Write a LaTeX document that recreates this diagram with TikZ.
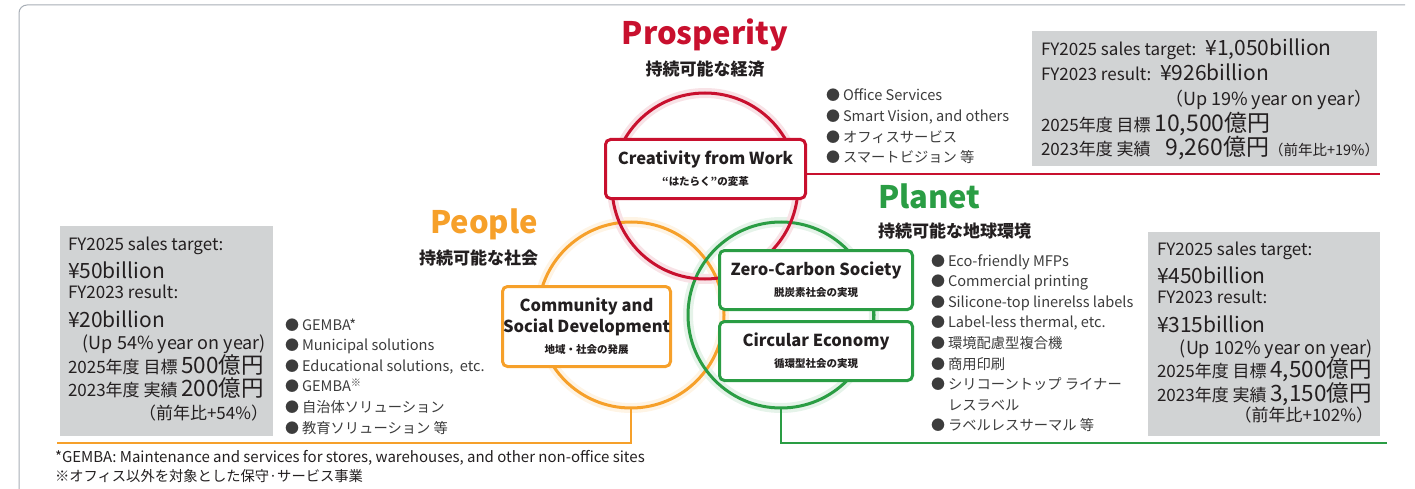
\documentclass[tikz,border=0pt]{standalone}
\usepackage{fontspec}
\setmainfont{Noto Sans CJK JP}
\usetikzlibrary{positioning}

\definecolor{prosred}{HTML}{C8102E}
\definecolor{pplorange}{HTML}{F6A02A}
\definecolor{plngreen}{HTML}{2A9D44}
\definecolor{boxgray}{HTML}{D1D3D4}
\definecolor{framegray}{HTML}{A7AEB6}
\definecolor{txt}{HTML}{231F20}
\definecolor{itemtxt}{HTML}{3C3C3C}

\newcommand{\fsz}[1]{\fontsize{#1}{#1}\selectfont}
\newcommand{\bul}{\makebox[17pt][l]{\fsz{14}●}}
\newcommand{\jtxt}[1]{{\fsz{14.3}#1}}

\begin{document}
\begin{tikzpicture}[x=1pt, y=-1pt,
    every node/.style={inner sep=0pt, outer sep=0pt, text=txt},
    ring/.style={circle, draw, line width=3pt, minimum size=186pt},
    glow/.style={circle, draw, line width=10pt, minimum size=186pt},
    bizbox/.style={draw, line width=3pt, rounded corners=5pt, fill=white, align=center,
      font=\fontsize{16.5}{21}\selectfont\bfseries},
    graybox/.style={fill=boxgray, anchor=north west},
    bigtitle/.style={font=\fsz{31}\bfseries},
    subtitle/.style={font=\fsz{17}\bfseries},
    item/.style={font=\fsz{14.6}, text=itemtxt, anchor=base west},
    gtxt/.style={font=\fsz{17}, anchor=base west},
    gbig/.style={font=\fsz{21}, anchor=base west},
    gjp/.style={font=\fsz{17}, anchor=base west},
    gright/.style={font=\fsz{18}, anchor=base east},
    link/.style={line width=1.2pt}
  ]
  \useasboundingbox (0,0) rectangle (1415,489);

  % frame
  \draw[framegray, line width=1pt, rounded corners=8pt] (19,489) -- (19,5) -- (1405,5);

  % the three rings
  \node[glow, draw=pplorange!12] (pplglow) at (631,315) {};
  \node[glow, draw=plngreen!12] (plnglow) at (781,315) {};
  \node[glow, draw=prosred!12] (prosglow) at (705,186) {};
  \node[ring, draw=pplorange] (pplring) at (631,315) {};
  \node[ring, draw=plngreen] (plnring) at (781,315) {};
  \node[ring, draw=prosred] (prosring) at (705,186) {};

  % titles
  \node[bigtitle, text=prosred, anchor=base] (prostitle) at (705,45) {Prosperity};
  \node[subtitle, anchor=base] (prossub) at (705,76) {持続可能な経済};
  \node[bigtitle, text=pplorange, anchor=base east] (ppltitle) at (538,233) {People};
  \node[subtitle, anchor=base east] (pplsub) at (538,264) {持続可能な社会};
  \node[bigtitle, text=plngreen, anchor=base west] (plntitle) at (878,208) {Planet};
  \node[subtitle, anchor=base west] (plnsub) at (878,237) {持続可能な地球環境};

  % business boxes
  \node[bizbox, draw=prosred, minimum width=200pt, minimum height=59pt] (cfw) at (705.5,169)
    {Creativity from Work\\{\fsz{10.5}“はたらく”の変革}};
  \node[bizbox, draw=pplorange, minimum width=168pt, minimum height=80pt] (csd) at (586.5,326.5)
    {Community and\\Social Development\\{\fsz{10.5}地域・社会の発展}};
  \node[bizbox, draw=plngreen, minimum width=193pt, minimum height=59pt] (zcs) at (816,280)
    {Zero-Carbon Society\\{\fsz{10.5}脱炭素社会の実現}};
  \node[bizbox, draw=plngreen, minimum width=193pt, minimum height=59pt] (cec) at (816,351)
    {Circular Economy\\{\fsz{10.5}循環型社会の実現}};
  \draw[plngreen, line width=3pt] ([xshift=-39pt]zcs.south east) -- ([xshift=-39pt]cec.north east);

  % leader lines
  \coordinate (prosend) at (1380,174);
  \coordinate (pplend) at (57,443);
  \coordinate (plnend) at (1387,443);
  \draw[link, prosred] (cfw.east |- prosend) -- (prosend);
  \draw[link, pplorange] (pplring.south) |- (pplend);
  \draw[link, plngreen] (plnring.south) |- (plnend);

  % business lists
  \foreach \t [count=\i] in {Office Services, {Smart Vision, and others}, \jtxt{オフィスサービス}, \jtxt{スマートビジョン 等}}
    \node[item] (prositem\i) at (826, 80.4+20.6*\i) {\bul\t};
  \foreach \t [count=\i] in {GEMBA*, Municipal solutions, {Educational solutions,\ \ etc.},
      GEMBA\textsuperscript{※}, \jtxt{自治体ソリューション}, \jtxt{教育ソリューション 等}}
    \node[item] (pplitem\i) at (285, 309.4+20.6*\i) {\bul\t};
  \foreach \t [count=\i] in {\bul Eco-friendly MFPs, \bul Commercial printing,
      \bul Silicone-top linerelss labels, {\bul Label-less thermal, etc.}, \bul\jtxt{環境配慮型複合機},
      \bul\jtxt{商用印刷}, \bul\jtxt{シリコーントップ ライナー}, \hspace{17pt}\jtxt{レスラベル},
      \bul\jtxt{ラベルレスサーマル 等}}
    \node[item] (plnitem\i) at (931, 245.4+20.6*\i) {\t};

  % sales figures, Prosperity
  \node[graybox, minimum width=345pt, minimum height=135pt] (prosfig) at (1032,31) {};
  \node[gtxt] (prosfig1) at (1041,56) {FY2025 sales target:\hspace{9pt}{\fsz{21}¥1,050billion}};
  \node[gtxt] (prosfig2) at (1041,81) {FY2023 result:\hspace{9pt}{\fsz{21}¥926billion}};
  \node[gright] (prosfig3) at (1372,106) {（Up 19\% year on year）};
  \node[gjp] (prosfig4) at (1041,132) {2025年度 目標 {\fsz{23}10,500億円}};
  \node[gjp] (prosfig5) at (1041,156) {2023年度 実績\hspace{15pt}{\fsz{23}9,260億円}{\fsz{14.5}（前年比+19\%）}};

  % sales figures, People
  \node[graybox, minimum width=213pt, minimum height=210pt] (pplfig) at (60,226) {};
  \node[gtxt] (pplfig1) at (68,250) {FY2025 sales target:};
  \node[gbig] (pplfig2) at (68,278) {¥50billion};
  \node[gtxt] (pplfig3) at (68,298) {FY2023 result:};
  \node[gbig] (pplfig4) at (68,327) {¥20billion};
  \node[gright] (pplfig5) at (266,349) {(Up 54\% year on year)};
  \node[gjp] (pplfig6) at (68,373) {2025年度 目標 {\fsz{22.5}500億円}};
  \node[gjp] (pplfig7) at (68,396) {2023年度 実績 {\fsz{22.5}200億円}};
  \node[gright, font=\fsz{17}] (pplfig8) at (268,419) {（前年比+54\%）};

  % sales figures, Planet
  \node[graybox, minimum width=232pt, minimum height=204pt] (plnfig) at (1148,232) {};
  \node[gtxt] (plnfig1) at (1157,255) {FY2025 sales target:};
  \node[gbig] (plnfig2) at (1157,283) {¥450billion};
  \node[gtxt] (plnfig3) at (1157,303) {FY2023 result:};
  \node[gbig] (plnfig4) at (1157,332) {¥315billion};
  \node[gright] (plnfig5) at (1373,354) {(Up 102\% year on year)};
  \node[gjp] (plnfig6) at (1157,377) {2025年度 目標 {\fsz{22.5}4,500億円}};
  \node[gjp] (plnfig7) at (1157,401) {2023年度 実績 {\fsz{22.5}3,150億円}};
  \node[gright, font=\fsz{17}] (plnfig8) at (1373,421) {（前年比+102\%）};

  % footnotes
  \node[item, font=\fsz{15}, text=txt] (note1) at (55,462) {*GEMBA: Maintenance and services for stores, warehouses, and other non-office sites};
  \node[item, font=\fsz{14.3}, text=txt] (note2) at (55,481) {※オフィス以外を対象とした保守·サービス事業};
\end{tikzpicture}
\end{document}
